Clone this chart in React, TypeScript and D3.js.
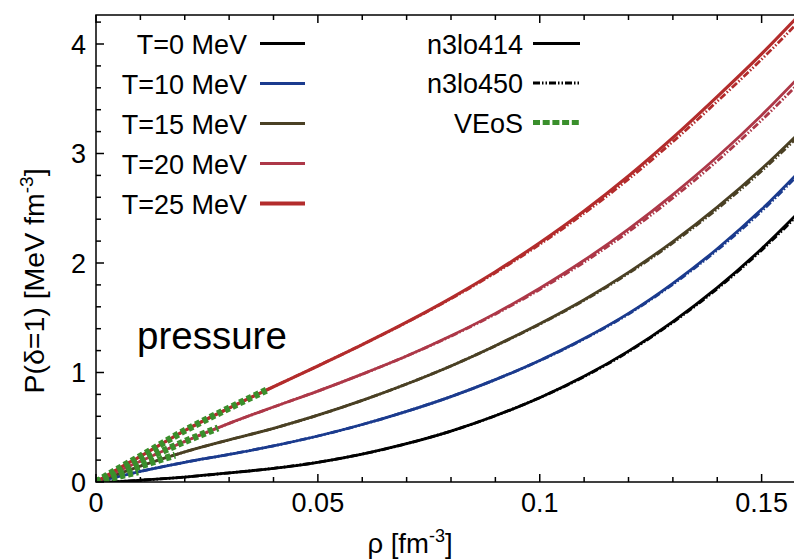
import * as d3 from "d3";
import React from "react";

// density grid [fm^-3]
const rho = [0, 0.005, 0.01, 0.02, 0.03, 0.04, 0.05, 0.06, 0.07, 0.08, 0.09, 0.1, 0.11, 0.12, 0.13, 0.14, 0.15, 0.16];

const temps = ["T=0 MeV", "T=10 MeV", "T=15 MeV", "T=20 MeV", "T=25 MeV"];
const colors = ["#000000", "#1b3b8e", "#4a4024", "#ad3848", "#b32c2c"];

// n3lo414 pressure [MeV fm^-3]
const n414_T0 = [0, 0.004, 0.016, 0.045, 0.083, 0.125, 0.18, 0.255, 0.35, 0.465, 0.605, 0.77, 0.965, 1.195, 1.465, 1.775, 2.13, 2.53];
const n414_T10 = [0, 0.05, 0.097, 0.18, 0.252, 0.33, 0.42, 0.525, 0.645, 0.78, 0.935, 1.11, 1.31, 1.54, 1.815, 2.13, 2.49, 2.9];
const n414_T15 = [0, 0.073, 0.145, 0.275, 0.385, 0.49, 0.61, 0.745, 0.895, 1.06, 1.245, 1.445, 1.665, 1.915, 2.195, 2.51, 2.86, 3.25];
const n414_T20 = [0, 0.098, 0.19, 0.37, 0.535, 0.685, 0.83, 0.985, 1.15, 1.335, 1.54, 1.77, 2.025, 2.31, 2.625, 2.97, 3.35, 3.765];
const n414_T25 = [0, 0.12, 0.235, 0.47, 0.675, 0.87, 1.06, 1.255, 1.46, 1.68, 1.92, 2.185, 2.475, 2.795, 3.145, 3.52, 3.91, 4.33];

// n3lo450 pressure [MeV fm^-3]
const n450_T0 = [0, 0.004, 0.016, 0.045, 0.083, 0.125, 0.18, 0.255, 0.35, 0.465, 0.605, 0.77, 0.962, 1.19, 1.458, 1.765, 2.117, 2.513];
const n450_T10 = [0, 0.05, 0.097, 0.18, 0.252, 0.33, 0.42, 0.525, 0.645, 0.78, 0.935, 1.108, 1.306, 1.534, 1.806, 2.118, 2.474, 2.88];
const n450_T15 = [0, 0.073, 0.145, 0.275, 0.385, 0.49, 0.61, 0.745, 0.895, 1.06, 1.243, 1.441, 1.659, 1.906, 2.183, 2.494, 2.84, 3.225];
const n450_T20 = [0, 0.098, 0.19, 0.37, 0.535, 0.685, 0.83, 0.985, 1.15, 1.332, 1.533, 1.758, 2.007, 2.285, 2.594, 2.932, 3.304, 3.71];
const n450_T25 = [0, 0.12, 0.235, 0.47, 0.675, 0.87, 1.06, 1.255, 1.457, 1.674, 1.91, 2.17, 2.454, 2.766, 3.108, 3.476, 3.86, 4.272];

// virial EoS (low density only)
const veosRho_T10 = [0, 0.0025, 0.005, 0.0075, 0.0095];
const veos_T10 = [0, 0.025, 0.05, 0.074, 0.092];
const veosRho_T15 = [0, 0.0025, 0.005, 0.0075, 0.01, 0.0125, 0.015, 0.0178];
const veos_T15 = [0, 0.037, 0.073, 0.109, 0.145, 0.178, 0.21, 0.245];
const veosRho_T20 = [0, 0.0025, 0.005, 0.0075, 0.01, 0.015, 0.02, 0.025, 0.0275];
const veos_T20 = [0, 0.049, 0.098, 0.144, 0.19, 0.281, 0.37, 0.453, 0.494];
const veosRho_T25 = [0, 0.0025, 0.005, 0.0075, 0.01, 0.015, 0.02, 0.025, 0.03, 0.035, 0.0388];
const veos_T25 = [0, 0.061, 0.12, 0.178, 0.235, 0.354, 0.47, 0.574, 0.675, 0.773, 0.846];

const n414 = [n414_T0, n414_T10, n414_T15, n414_T20, n414_T25];
const n450 = [n450_T0, n450_T10, n450_T15, n450_T20, n450_T25];
const veos = [
  { rho: veosRho_T10, p: veos_T10, t: 1 },
  { rho: veosRho_T15, p: veos_T15, t: 2 },
  { rho: veosRho_T20, p: veos_T20, t: 3 },
  { rho: veosRho_T25, p: veos_T25, t: 4 },
];

const xTicks = [0, 0.05, 0.1, 0.15];
const xTickLabels = ["0", "0.05", "0.1", "0.15"];
const yTicks = [0, 1, 2, 3, 4];
const modelLabels = ["n3lo414", "n3lo450", "VEoS"];

const W = 794;
const H = 560;
const FONT = "'Liberation Sans', Arial, Helvetica, sans-serif";
const DASH450 = "7 2 1.5 2 1.5 2";
const GREEN = "#3a8f2c";

export default function App() {
  const left = 96, right = 806, top = 15, bottom = 482;
  const x = d3.scaleLinear().domain([0, 0.16]).range([left, right]);
  const y = d3.scaleLinear().domain([0, 4]).range([bottom, 44]);

  const line = (xs: number[], ys: number[]) =>
    d3.line<number>().x((_, i) => x(xs[i])).y((d) => y(d)).curve(d3.curveMonotoneX)(ys) || "";

  const xMinor = d3.range(0, 0.1601, 0.01);
  const yMinor = d3.range(0, 4.27, 0.2);

  return (
    <>
      <style>{"body{margin:0}"}</style>
      <svg width={W} height={H} style={{ display: "block", fontFamily: FONT }}>
        <defs>
          <clipPath id="plot">
            <rect x={left} y={top} width={right - left} height={bottom - top} />
          </clipPath>
        </defs>
        <rect width={W} height={H} fill="#fff" />

        <g clipPath="url(#plot)" fill="none" strokeLinejoin="round">
          {n414.map((ys, i) => (
            <path key={"a" + i} d={line(rho, ys)} stroke={colors[i]} strokeWidth={i === 4 ? 3.2 : 2.8} />
          ))}
          {n450.map((ys, i) => (
            <path key={"b" + i} d={line(rho, ys)} stroke={colors[i]} strokeWidth={2.8} strokeDasharray={DASH450} />
          ))}
          {veos.map((v) => (
            <path key={"v" + v.t} d={line(v.rho, v.p)} stroke={GREEN} strokeWidth={7} strokeDasharray="5 3.2" />
          ))}
        </g>

        {/* frame + ticks */}
        <g stroke="#000" strokeWidth={1.5}>
          <rect x={left} y={top} width={right - left} height={bottom - top} fill="none" />
          {xMinor.map((t, i) => {
            const len = i % 5 === 0 ? 8 : 5;
            return (
              <g key={"xt" + i}>
                <line x1={x(t)} x2={x(t)} y1={bottom} y2={bottom - len} />
                <line x1={x(t)} x2={x(t)} y1={top} y2={top + len} />
              </g>
            );
          })}
          {yMinor.map((t, i) => {
            const len = i % 5 === 0 ? 8 : 5;
            return <line key={"yt" + i} x1={left} x2={left + len} y1={y(t)} y2={y(t)} />;
          })}
        </g>

        {/* tick labels */}
        <g fontSize={27} fill="#000">
          {xTicks.map((t, i) => (
            <text key={"xl" + i} x={x(t)} y={512} textAnchor="middle">{xTickLabels[i]}</text>
          ))}
          {yTicks.map((t) => (
            <text key={"yl" + t} x={86} y={y(t) + 9.5} textAnchor="end">{t}</text>
          ))}
        </g>

        {/* axis titles */}
        <text x={410} y={553} fontSize={27.5} textAnchor="middle">
          ρ [fm<tspan dy={-11} fontSize={18}>-3</tspan><tspan dy={11}>]</tspan>
        </text>
        <text transform="translate(44,281) rotate(-90)" fontSize={28.5} textAnchor="middle">
          P(δ=1) [MeV fm<tspan dy={-11} fontSize={19}>-3</tspan><tspan dy={11}>]</tspan>
        </text>

        <text x={137} y={349} fontSize={38.5}>pressure</text>

        {/* legend */}
        <g fontSize={27}>
          {temps.map((t, i) => {
            const ly = 43.5 + i * 40;
            return (
              <g key={"lg" + i}>
                <text x={247} y={ly + 10} textAnchor="end">{t}</text>
                <line x1={260} x2={305} y1={ly} y2={ly} stroke={colors[i]} strokeWidth={i === 4 ? 4 : 3} />
              </g>
            );
          })}
          {modelLabels.map((m, i) => {
            const ly = 43.5 + i * 39.5;
            return (
              <g key={"lm" + i}>
                <text x={523} y={ly + 10} textAnchor="end">{m}</text>
                <line
                  x1={533}
                  x2={580}
                  y1={ly}
                  y2={ly}
                  stroke={i === 2 ? GREEN : "#000"}
                  strokeWidth={i === 2 ? 5 : 3}
                  strokeDasharray={i === 0 ? undefined : i === 1 ? DASH450 : "7 2.7"}
                />
              </g>
            );
          })}
        </g>
      </svg>
    </>
  );
}
